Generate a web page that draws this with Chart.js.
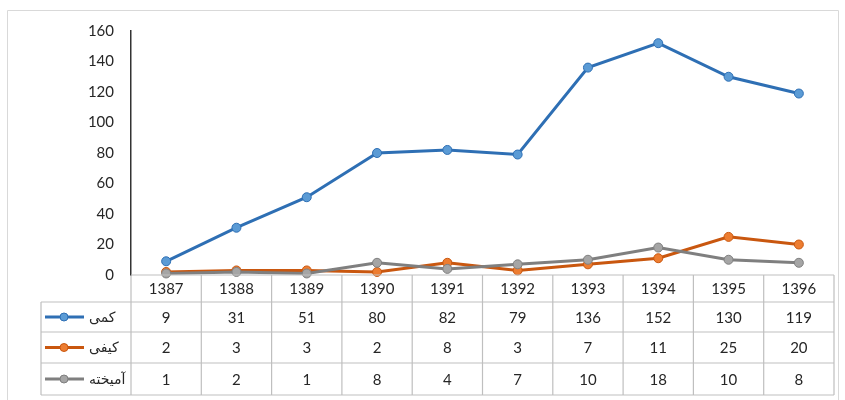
<!DOCTYPE html>
<html lang="fa">
<head>
  <meta charset="UTF-8" />
  <title>کمی، کیفی، آمیخته</title>
  <script src="https://cdn.jsdelivr.net/npm/chart.js"></script>
  <style>
    body { margin: 0; background: #fff; }
    #wrap { width: 845px; height: 400px; }
  </style>
</head>
<body>
<div id="wrap"><canvas id="chart" width="845" height="400"></canvas></div>
<script>
  // سال‌ها و مقادیر
  const years = ['1387', '1388', '1389', '1390', '1391', '1392', '1393', '1394', '1395', '1396'];
  const kammi = [9, 31, 51, 80, 82, 79, 136, 152, 130, 119];
  const keyfi = [2, 3, 3, 2, 8, 3, 7, 11, 25, 20];
  const amikhte = [1, 2, 1, 8, 4, 7, 10, 18, 10, 8];
  const seriesNames = ['کمی', 'کیفی', 'آمیخته'];
  const yTicks = [0, 20, 40, 60, 80, 100, 120, 140, 160];

  const FONT = "Lato, 'DejaVu Sans', sans-serif";
  const TEXT = '#262626';
  const GRID = '#bfbfbf';

  // جدول داده زیر نمودار
  const dataTable = {
    id: 'dataTable',
    beforeDraw(chart) {
      const c = chart.ctx;
      c.save();
      c.strokeStyle = '#d9d9d9';
      c.lineWidth = 1;
      c.beginPath();
      c.moveTo(7.5, 400); c.lineTo(7.5, 10.5); c.lineTo(838.5, 10.5); c.lineTo(838.5, 400);
      c.stroke();
      c.restore();
    },
    afterDraw(chart) {
      const c = chart.ctx;
      const x = chart.scales.x;
      const area = chart.chartArea;
      const rows = [area.bottom, 302, 332, 363, 395];
      const tableLeft = 41;
      const step = x.getPixelForValue(1) - x.getPixelForValue(0);
      const colLeft = x.getPixelForValue(0) - step / 2;
      const colRight = x.getPixelForValue(years.length - 1) + step / 2;

      c.save();
      c.strokeStyle = GRID;
      c.lineWidth = 1.2;
      c.beginPath();
      c.moveTo(colLeft, rows[0]); c.lineTo(colRight, rows[0]);
      for (let r = 1; r < rows.length; r++) {
        c.moveTo(tableLeft, rows[r]); c.lineTo(colRight, rows[r]);
      }
      for (let i = 0; i <= years.length; i++) {
        const px = colLeft + i * step;
        c.moveTo(px, rows[0]); c.lineTo(px, rows[4]);
      }
      c.moveTo(tableLeft, rows[1]); c.lineTo(tableLeft, rows[4]);
      c.stroke();

      c.fillStyle = TEXT;
      c.font = '15px ' + FONT;
      c.textAlign = 'center';
      c.textBaseline = 'middle';
      years.forEach((yr, i) => {
        c.fillText(yr, x.getPixelForValue(i), (rows[0] + rows[1]) / 2 + 1);
      });

      chart.data.datasets.forEach((ds, r) => {
        const cy = (rows[r + 1] + rows[r + 2]) / 2;
        c.fillStyle = TEXT;
        c.textAlign = 'center';
        c.font = '15px ' + FONT;
        ds.data.forEach((v, i) => c.fillText(String(v), x.getPixelForValue(i), cy + 1));

        // کلید راهنما
        c.strokeStyle = ds.borderColor;
        c.lineWidth = 3;
        c.beginPath();
        c.moveTo(45, cy); c.lineTo(84, cy);
        c.stroke();
        c.beginPath();
        c.arc(64, cy, 4, 0, Math.PI * 2);
        c.fillStyle = ds.pointBackgroundColor;
        c.fill();
        c.lineWidth = 1;
        c.stroke();

        c.fillStyle = TEXT;
        c.textAlign = 'left';
        c.font = '14px ' + FONT;
        c.fillText(ds.label, 89, cy);
      });
      c.restore();
    }
  };

  const mk = (label, data, line, fill, order) => ({
    label, data, order,
    borderColor: line,
    backgroundColor: fill,
    pointBackgroundColor: fill,
    pointBorderColor: line,
    pointBorderWidth: 1,
    pointRadius: 4.5,
    borderWidth: 3,
    tension: 0,
    clip: false
  });

  new Chart(document.getElementById('chart'), {
    type: 'line',
    data: {
      labels: years,
      datasets: [
        mk(seriesNames[0], kammi, '#2e6fb4', '#5b9bd5', 2),
        mk(seriesNames[1], keyfi, '#c9570f', '#ed7d31', 1),
        mk(seriesNames[2], amikhte, '#7f7f7f', '#a5a5a5', 0)
      ]
    },
    options: {
      responsive: false,
      animation: false,
      layout: { padding: { left: 0, right: 11, top: 31, bottom: 125 } },
      plugins: { legend: { display: false }, tooltip: { enabled: false } },
      scales: {
        x: { display: false, offset: true },
        y: {
          min: 0, max: 160,
          afterBuildTicks: s => { s.ticks = yTicks.map(v => ({ value: v })); },
          afterFit: s => { s.width = 131; },
          grid: { display: false, drawTicks: false },
          border: { display: true, color: '#333', width: 1.5 },
          ticks: { padding: 17, color: TEXT, font: { family: FONT, size: 15 } }
        }
      }
    },
    plugins: [dataTable]
  });
</script>
</body>
</html>
